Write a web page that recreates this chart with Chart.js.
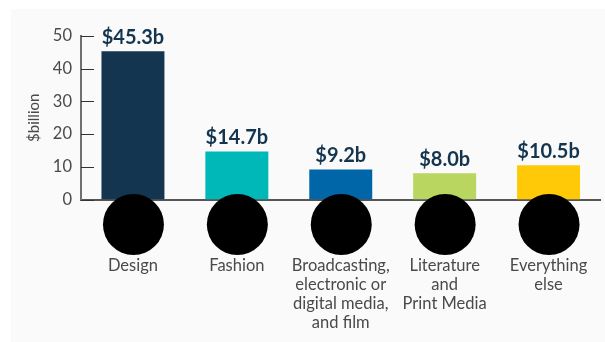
<!DOCTYPE html>
<html>
<head>
<meta charset="utf-8">
<title>Creative industries</title>
<script src="https://cdn.jsdelivr.net/npm/chart.js@4/dist/chart.umd.min.js"></script>
<style>
  html, body { margin: 0; padding: 0; background: #ffffff; overflow: hidden; }
  #panel { position: absolute; left: 11px; top: 9px; width: 594px; height: 333px; background: #fafafa; }
  #wrap { position: absolute; left: 0; top: 0; width: 605px; height: 342px; }
</style>
</head>
<body>
<div id="panel"></div>
<div id="wrap"><canvas id="chart" width="605" height="342"></canvas></div>
<script>
// Sector totals
const categories = [
  ['Design'],
  ['Fashion'],
  ['Broadcasting,', 'electronic or', 'digital media,', 'and film'],
  ['Literature', 'and', 'Print Media'],
  ['Everything', 'else']
];
const values = [45.3, 14.7, 9.2, 8.0, 10.5];
const valueLabels = ['$45.3b', '$14.7b', '$9.2b', '$8.0b', '$10.5b'];
const barColors = ['#14354f', '#00b8b8', '#0066a8', '#b9d661', '#ffc907'];

const fontName = 'Lato, sans-serif';
const textColor = '#4a4a4a';

// Short ticks pointing into the plot, value labels and the round badges under each bar
const decorations = {
  id: 'decorations',
  afterDatasetsDraw(chart) {
    const ctx = chart.ctx;
    const yScale = chart.scales.y;
    const xScale = chart.scales.x;
    const area = chart.chartArea;

    ctx.save();
    ctx.strokeStyle = '#333333';
    ctx.lineWidth = 1;
    yScale.ticks.forEach((tick, i) => {
      const y = Math.round(yScale.getPixelForTick(i)) + 0.5;
      ctx.beginPath();
      ctx.moveTo(area.left, y);
      ctx.lineTo(area.left + 13, y);
      ctx.stroke();
    });

    ctx.fillStyle = '#14354f';
    ctx.font = 'bold 20px ' + fontName;
    ctx.textAlign = 'center';
    ctx.textBaseline = 'alphabetic';
    chart.getDatasetMeta(0).data.forEach((bar, i) => {
      ctx.fillText(valueLabels[i], bar.x, bar.y - 7);
    });

    ctx.fillStyle = '#000000';
    categories.forEach((c, i) => {
      ctx.beginPath();
      ctx.arc(xScale.getPixelForTick(i) + 0.5, area.bottom + 25, 30.5, 0, Math.PI * 2);
      ctx.fill();
    });
    ctx.restore();
  }
};

new Chart(document.getElementById('chart'), {
  type: 'bar',
  data: {
    labels: categories,
    datasets: [{
      data: values,
      backgroundColor: barColors,
      borderWidth: 0,
      categoryPercentage: 1,
      barPercentage: 0.606
    }]
  },
  options: {
    responsive: false,
    animation: false,
    layout: { padding: { top: 36, right: 4.5, left: 0, bottom: 0 } },
    plugins: {
      legend: { display: false },
      tooltip: { enabled: false }
    },
    scales: {
      x: {
        grid: { display: false, drawTicks: false },
        border: { color: '#555555', width: 2 },
        ticks: {
          autoRotate: false,
          maxRotation: 0,
          autoSkip: false,
          padding: 57,
          color: textColor,
          font: { family: fontName, size: 16.5, lineHeight: 1.15 }
        },
        afterFit(scale) {
          scale.height = 142.5;
          // the outer labels fit inside their slots, no side padding needed
          scale.paddingLeft = 0;
          scale.paddingRight = 0;
        }
      },
      y: {
        min: 0,
        max: 50,
        grid: { display: false, drawTicks: false },
        border: { color: '#707070', width: 2 },
        ticks: {
          stepSize: 10,
          padding: 9,
          color: textColor,
          font: { family: fontName, size: 16.5 }
        },
        title: {
          display: true,
          text: '$billion',
          color: textColor,
          font: { family: fontName, size: 15 },
          padding: { top: 25, bottom: 0 }
        },
        afterFit(scale) { scale.width = 81; }
      }
    }
  },
  plugins: [decorations]
});
</script>
</body>
</html>
